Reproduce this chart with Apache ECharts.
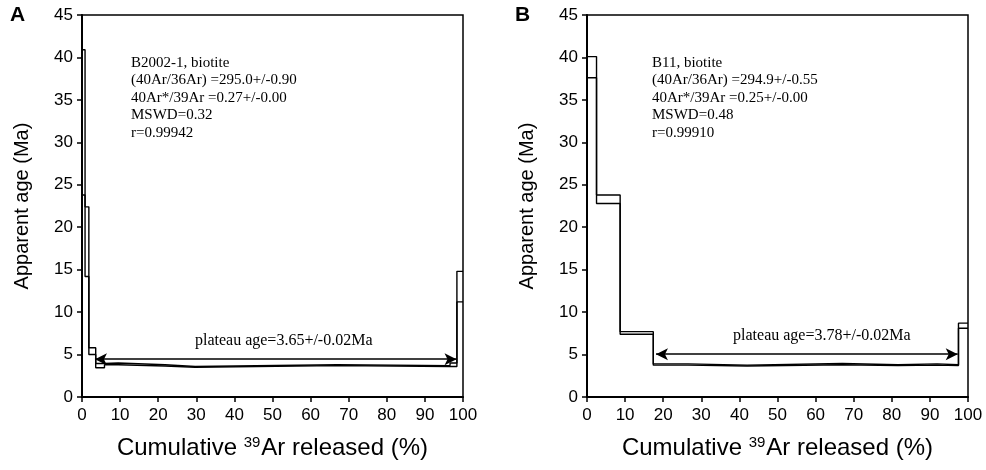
<!DOCTYPE html>
<html><head><meta charset="utf-8">
<script src="https://cdn.jsdelivr.net/npm/echarts@6/dist/echarts.min.js"></script>
<style>html,body{margin:0;padding:0;background:#fff}#c{width:986px;height:470px}</style>
</head><body><div id="c"></div>
<script>
// Panel A: step boundaries (cumulative 39Ar %), lower/upper age bounds (Ma)
var stepsA = [0, 0.8, 1.8, 3.6, 5.9, 9.5, 21.8, 29.7, 67, 96.6, 98.4, 100];
var lowA   = [23.8, 14.2, 5.0, 3.45, 3.8, 3.65, 3.5, 3.7, 3.6, 3.6, 11.2];
var highA  = [40.9, 22.4, 5.8, 3.95, 4.0, 3.8, 3.6, 3.8, 3.7, 4.0, 14.8];
var plateauA = {from: 3.4, to: 98.3, y: 4.45};
// Panel B
var stepsB = [0, 2.5, 8.7, 17.4, 26.5, 42, 67, 81.6, 91.9, 97.5, 100];
var lowB   = [37.6, 22.8, 7.4, 3.75, 3.65, 3.8, 3.7, 3.75, 3.7, 8.1];
var highB  = [40.1, 23.8, 7.7, 3.9, 3.75, 3.95, 3.8, 3.9, 3.8, 8.7];
var plateauB = {from: 18.1, to: 97.3, y: 5.05};
var xTicks = {min: 0, max: 100, interval: 10};
var yTicks = {min: 0, max: 45, interval: 5};
var infoA = ['B2002-1, biotite', '(40Ar/36Ar) =295.0+/-0.90', '40Ar*/39Ar =0.27+/-0.00', 'MSWD=0.32', 'r=0.99942'];
var infoB = ['B11, biotite', '(40Ar/36Ar) =294.9+/-0.55', '40Ar*/39Ar =0.25+/-0.00', 'MSWD=0.48', 'r=0.99910'];
var plateauTextA = 'plateau age=3.65+/-0.02Ma';
var plateauTextB = 'plateau age=3.78+/-0.02Ma';

function stepLine(xs, ys) {
  var pts = [];
  for (var i = 0; i < ys.length; i++) { pts.push([xs[i], ys[i]]); pts.push([xs[i + 1], ys[i]]); }
  return pts;
}
var SANS = 'Liberation Sans, Arial, sans-serif';
var SERIF = 'Liberation Serif, Times New Roman, serif';
function xAxis(i) {
  return {type: 'value', gridIndex: i, min: xTicks.min, max: xTicks.max, interval: xTicks.interval,
    axisLine: {lineStyle: {color: '#000', width: 2}}, axisTick: {length: 5, lineStyle: {color: '#000', width: 1.5}},
    axisLabel: {color: '#000', fontSize: 17, fontFamily: SANS, margin: 10}, splitLine: {show: false},
    name: '{a|Cumulative }{s|39}{a|Ar released (%)}', nameLocation: 'middle', nameGap: 38,
    nameTextStyle: {rich: {a: {fontSize: 24, fontFamily: SANS, color: '#000'},
      s: {fontSize: 15, fontFamily: SANS, color: '#000', verticalAlign: 'top', padding: [0, 1, 12, 0]}}}};
}
function yAxis(i) {
  return {type: 'value', gridIndex: i, min: yTicks.min, max: yTicks.max, interval: yTicks.interval,
    axisLine: {lineStyle: {color: '#000', width: 2}}, axisTick: {length: 5, lineStyle: {color: '#000', width: 1.5}},
    axisLabel: {color: '#000', fontSize: 17, fontFamily: SANS, margin: 9}, splitLine: {show: false},
    name: 'Apparent age (Ma)', nameLocation: 'middle', nameGap: 50,
    nameTextStyle: {fontSize: 20, fontFamily: SANS, color: '#000'}};
}
function lineSeries(i, data) {
  return {type: 'line', xAxisIndex: i, yAxisIndex: i, data: data, showSymbol: false, symbol: 'none',
    lineStyle: {color: '#000', width: 1.4}, animation: false, z: 3};
}
function arrowSeries(i, p, txt, dx) {
  return {type: 'line', xAxisIndex: i, yAxisIndex: i, data: [], animation: false,
    markLine: {silent: true, symbol: ['arrow', 'arrow'], symbolSize: [9, 12],
      lineStyle: {color: '#000', width: 1.5, type: 'solid'},
      label: {show: true, position: 'middle', formatter: txt, color: '#000', fontFamily: SERIF, fontSize: 16, distance: 10, offset: [dx, 0]},
      data: [[{coord: [p.from, p.y]}, {coord: [p.to, p.y]}]]}};
}
var chart = echarts.init(document.getElementById('c'));
chart.setOption({
  animation: false,
  grid: [
    {left: 82, width: 381, top: 15, height: 382, show: true, borderColor: '#000', borderWidth: 1.5},
    {left: 587, width: 381, top: 15, height: 382, show: true, borderColor: '#000', borderWidth: 1.5}
  ],
  xAxis: [xAxis(0), xAxis(1)],
  yAxis: [yAxis(0), yAxis(1)],
  series: [
    lineSeries(0, stepLine(stepsA, highA)), lineSeries(0, stepLine(stepsA, lowA)),
    lineSeries(1, stepLine(stepsB, highB)), lineSeries(1, stepLine(stepsB, lowB)),
    arrowSeries(0, plateauA, plateauTextA, 8), arrowSeries(1, plateauB, plateauTextB, 15)
  ],
  graphic: [
    {type: 'text', left: 10, top: 5, style: {text: 'A', font: 'bold 21px ' + SANS, fill: '#000'}},
    {type: 'text', left: 515, top: 5, style: {text: 'B', font: 'bold 21px ' + SANS, fill: '#000'}},
    {type: 'text', left: 131, top: 54, style: {text: infoA.join('\n'), font: '15px ' + SERIF, lineHeight: 17.5, fill: '#000'}},
    {type: 'text', left: 652, top: 54, style: {text: infoB.join('\n'), font: '15px ' + SERIF, lineHeight: 17.5, fill: '#000'}}
  ]
});
</script></body></html>
